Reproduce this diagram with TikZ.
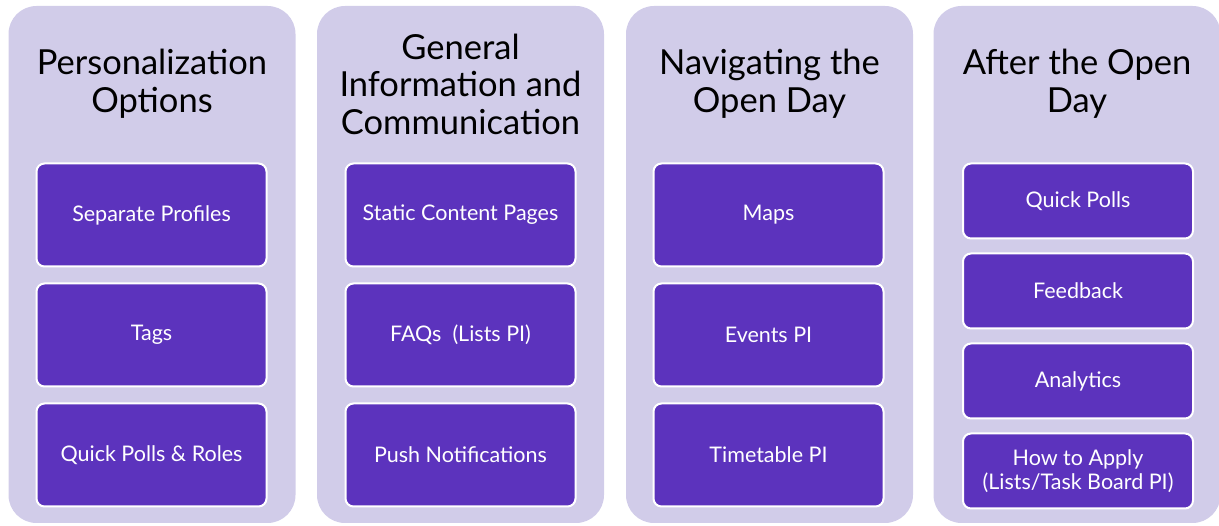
\documentclass[tikz,border=0pt]{standalone}
\usepackage{fontspec}
\setmainfont{Lato}
\usepackage{xcolor}
\definecolor{colorPanel}{RGB}{209,204,233}
\definecolor{colorItem}{RGB}{92,51,189}
\usetikzlibrary{positioning}
\tikzset{
  panel/.style={fill=colorPanel, draw=none, rounded corners=28pt, minimum width=287pt, minimum height=517pt, inner sep=0pt},
  heading/.style={text=black, align=center, font=\fontsize{34.5}{37.5}\selectfont, inner sep=0pt},
  item/.style={fill=colorItem, draw=white, line width=2pt, rounded corners=8pt, text=white, align=center, minimum width=230pt, minimum height=103pt, font=\fontsize{21.5}{23.5}\selectfont, inner sep=2pt},
  smallitem/.style={item, minimum height=75pt}
}

\begin{document}
\begin{tikzpicture}[x=1pt, y=-1pt, node distance=15pt]
\useasboundingbox (0,0) rectangle (1219,526);
% panels
\node[panel] (c1) at (152,264.5) {};
\node[panel] (c2) at (460.5,264.5) {};
\node[panel] (c3) at (769.5,264.5) {};
\node[panel] (c4) at (1077,264.5) {};
% headings
\node[heading] (h1) at (152,84) {Personalization\\Options};
\node[heading] (h2) at (460.5,84) {General\\Information and\\Communication};
\node[heading] (h3) at (769.5,84) {Navigating the\\Open Day};
\node[heading] (h4) at (1077,84) {After the Open\\Day};
% personalization
\node[item] (p1) at (151.5,215) {Separate Profiles};
\node[item, below=of p1] (p2) {Tags};
\node[item, below=of p2] (p3) {Quick Polls \& Roles};
% general information
\node[item] (g1) at (460.5,215) {Static Content Pages};
\node[item, below=of g1] (g2) {FAQs\ \ (Lists PI)};
\node[item, below=of g2] (g3) {Push Notifications};
% navigating
\node[item] (n1) at (768.5,215) {Maps};
\node[item, below=of n1] (n2) {Events PI};
\node[item, below=of n2] (n3) {Timetable PI};
% after the open day
\node[smallitem] (a1) at (1078,201) {Quick Polls};
\node[smallitem, below=13pt of a1] (a2) {Feedback};
\node[smallitem, below=13pt of a2] (a3) {Analytics};
\node[smallitem, below=13pt of a3] (a4) {How to Apply\\(Lists/Task Board PI)};
\end{tikzpicture}
\end{document}
